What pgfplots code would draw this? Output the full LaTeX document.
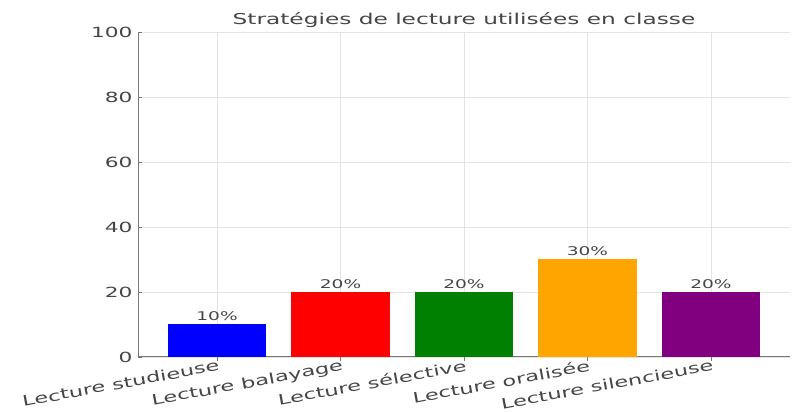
\documentclass[border=0pt]{standalone}
\usepackage{pgfplots}
\pgfplotsset{compat=1.18}
\usepackage{fontspec}
\setmainfont{DejaVu Sans}
\newcommand{\sx}[1]{\scalebox{1.55}[1]{#1}}
\definecolor{txt}{RGB}{70,70,70}
\definecolor{spine}{RGB}{120,120,120}
\definecolor{gridc}{RGB}{228,228,228}
\begin{document}
\begin{tikzpicture}[x=1pt,y=1pt]
\begin{axis}[
  scale only axis,
  width=652pt, height=325pt,
  xmin=-0.64, xmax=4.64, ymin=0, ymax=100,
  axis x line*=bottom, axis y line*=left,
  axis line style={spine, line width=1pt},
  xtick={0,1,2,3,4},
  xticklabels={\sx{Lecture studieuse}, \sx{Lecture balayage}, \sx{Lecture sélective}, \sx{Lecture oralisée}, \sx{Lecture silencieuse}},
  ytick={0,20,40,60,80,100},
  yticklabel={\sx{\pgfmathprintnumber{\tick}}},
  /pgf/number format/assume math mode=true,
  tick label style={font=\fontsize{14}{16}\selectfont, text=txt},
  x tick label style={rotate=10.5, anchor=north east, inner sep=0.5pt, xshift=2pt, yshift=2pt, font=\fontsize{14.5}{16}\selectfont},
  y tick label style={xshift=-2pt},
  tick style={spine, line width=0.8pt},
  major tick length=4pt,
  tick align=inside,
  grid=major,
  major grid style={gridc, line width=0.6pt},
  title={\sx{Stratégies de lecture utilisées en classe}},
  title style={font=\fontsize{15}{17}\selectfont, text=txt, yshift=-5pt},
  ybar, bar width=98.8pt,
  nodes near coords={\sx{\pgfmathprintnumber{\pgfplotspointmeta}\%}},
  nodes near coords style={font=\fontsize{12}{14}\selectfont, text=txt, yshift=0pt},
  every axis plot/.append style={bar shift=0pt, draw=none},
]
\addplot[fill={rgb,255:red,0;green,0;blue,255}] coordinates {(0,10)};
\addplot[fill={rgb,255:red,255;green,0;blue,0}] coordinates {(1,20)};
\addplot[fill={rgb,255:red,0;green,128;blue,0}] coordinates {(2,20)};
\addplot[fill={rgb,255:red,255;green,165;blue,0}] coordinates {(3,30)};
\addplot[fill={rgb,255:red,128;green,0;blue,128}] coordinates {(4,20)};
\coordinate (bl) at (axis description cs:-0.2117,-0.169);
\coordinate (tr) at (axis description cs:1.0077,1.0985);
\end{axis}
\pgfresetboundingbox
\path[use as bounding box] (bl) rectangle (tr);
\end{tikzpicture}
\end{document}
